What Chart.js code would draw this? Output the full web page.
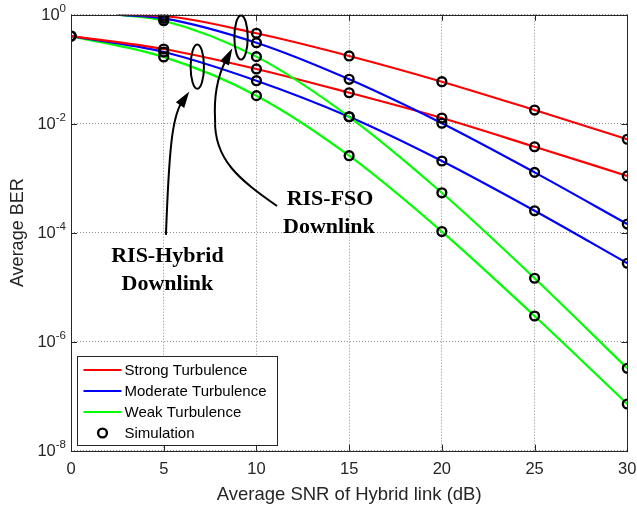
<!DOCTYPE html>
<html><head><meta charset="utf-8">
<script src="https://cdn.jsdelivr.net/npm/chart.js@4.4.0/dist/chart.umd.min.js"></script>
<style>html,body{margin:0;padding:0;background:#fff;}#wrap{width:637px;height:511px;}</style>
</head><body><div id="wrap"><canvas id="c" width="637" height="511"></canvas></div>
<script>
// ---------- data ----------
const snrHybrid = [0, 5, 10, 15, 20, 25, 30];
const snrFSO = [2.5, 5, 10, 15, 20, 25, 30];
const berStrongHybrid   = [0.406, 0.235, 0.101, 0.037, 0.0127, 0.00378, 0.0011];
const berModerateHybrid = [0.406, 0.207, 0.0615, 0.0134, 0.00207, 2.53e-4, 2.75e-5];
const berWeakHybrid     = [0.406, 0.168, 0.0327, 0.00259, 1.05e-4, 2.96e-6, 7.2e-8];
const berStrongFSO      = [1.0, 0.946, 0.456, 0.175, 0.059, 0.0178, 0.00518];
const berModerateFSO    = [1.0, 0.859, 0.306, 0.0653, 0.0102, 0.00128, 1.44e-4];
const berWeakFSO        = [1.0, 0.776, 0.170, 0.0134, 5.4e-4, 1.46e-5, 3.25e-7];
const simulationSNR = [0, 5, 10, 15, 20, 25, 30];
const seriesLabels = ['Strong Turbulence', 'Moderate Turbulence', 'Weak Turbulence', 'Simulation'];
const seriesColors = ['#ff0000', '#0000ff', '#00ff00'];
const xTickValues = [0, 5, 10, 15, 20, 25, 30];
const yTickExponents = [0, -2, -4, -6, -8];
const xTitle = 'Average SNR of Hybrid link (dB)';
const yTitle = 'Average BER';
const annotationTexts = [['RIS-Hybrid', 'Downlink'], ['RIS-FSO', 'Downlink']];

// ---------- build datasets ----------
const pts = (xs, ys) => xs.map((v, i) => ({x: v, y: ys[i]}));
const lineSets = [
  {label: seriesLabels[0], xs: snrFSO, ys: berStrongFSO, c: seriesColors[0]},
  {label: seriesLabels[1], xs: snrFSO, ys: berModerateFSO, c: seriesColors[1]},
  {label: seriesLabels[2], xs: snrFSO, ys: berWeakFSO, c: seriesColors[2]},
  {label: seriesLabels[0], xs: snrHybrid, ys: berStrongHybrid, c: seriesColors[0]},
  {label: seriesLabels[1], xs: snrHybrid, ys: berModerateHybrid, c: seriesColors[1]},
  {label: seriesLabels[2], xs: snrHybrid, ys: berWeakHybrid, c: seriesColors[2]},
];
const simPoints = [];
lineSets.forEach(s => s.xs.forEach((v, i) => { if (simulationSNR.includes(v)) simPoints.push({x: v, y: s.ys[i]}); }));

const datasets = [{
  type: 'scatter', label: seriesLabels[3], data: simPoints, order: 0,
  pointStyle: 'circle', pointRadius: 4.4, pointBorderWidth: 2.4, borderWidth: 2.4,
  pointBorderColor: '#000', pointBackgroundColor: 'rgba(0,0,0,0)', showLine: false
}].concat(lineSets.map(s => ({
  type: 'line', label: s.label, data: pts(s.xs, s.ys), order: 1,
  borderColor: s.c, borderWidth: 2.2, pointRadius: 0, fill: false,
  cubicInterpolationMode: 'monotone'
})));

Chart.defaults.font.family = '"Liberation Sans", Arial, Helvetica, sans-serif';
const AX = '#262626';
const GRID = 'rgba(0,0,0,0.45)';

// ---------- decorations: y tick labels with exponents, inward ticks, box, annotations, legend ----------
const decor = {
  id: 'decor',
  afterDraw(chart) {
    const {ctx, chartArea: a, scales: {x, y}} = chart;
    const P = (db, e) => [x.getPixelForValue(db), y.getPixelForValue(Math.pow(10, e))];
    ctx.save();
    ctx.setLineDash([]);
    // y tick labels: 10 with superscript exponent
    ctx.fillStyle = AX; ctx.textAlign = 'right'; ctx.textBaseline = 'middle';
    const baseFont = '16.5px "Liberation Sans", Arial, sans-serif';
    const expFont = '11.5px "Liberation Sans", Arial, sans-serif';
    yTickExponents.forEach(e => {
      const py = y.getPixelForValue(Math.pow(10, e));
      const rx = a.left - 5;
      const es = String(e);
      ctx.font = expFont; const ew = ctx.measureText(es).width;
      ctx.textBaseline = 'alphabetic';
      ctx.fillText(es, rx, py - 3.2);
      ctx.font = baseFont; ctx.textBaseline = 'middle';
      ctx.fillText('10', rx - ew, py + 1);
    });
    // inward ticks
    ctx.strokeStyle = AX; ctx.lineWidth = 1;
    const tl = 6;
    const seg = (x1, y1, x2, y2) => { ctx.beginPath(); ctx.moveTo(x1, y1); ctx.lineTo(x2, y2); ctx.stroke(); };
    xTickValues.forEach(v => { const px = Math.round(x.getPixelForValue(v)) + 0.5; seg(px, a.bottom, px, a.bottom - tl); seg(px, a.top, px, a.top + tl); });
    yTickExponents.forEach(e => { const py = Math.round(y.getPixelForValue(Math.pow(10, e))) + 0.5; seg(a.left, py, a.left + tl, py); seg(a.right, py, a.right - tl, py); });
    // box
    const L = Math.round(a.left) + 0.5, T = Math.round(a.top) + 0.5, R = Math.round(a.right) + 0.5, B = Math.round(a.bottom) + 0.5;
    ctx.strokeRect(L, T, R - L, B - T);

    // annotations (positions in data units: dB, log10 BER)
    ctx.strokeStyle = '#000'; ctx.fillStyle = '#000'; ctx.lineWidth = 2;
    const dbPx = x.getPixelForValue(1) - x.getPixelForValue(0);
    const decPx = y.getPixelForValue(0.1) - y.getPixelForValue(1);
    const ell = (db, e, rdb, rdec) => { const [cx, cy] = P(db, e); ctx.beginPath(); ctx.ellipse(cx, cy, rdb * dbPx, rdec * decPx, 0, 0, Math.PI * 2); ctx.stroke(); };
    ell(6.81, -0.954, 0.36, 0.405);
    ell(9.17, -0.418, 0.36, 0.405);
    const curve = (list) => {
      ctx.beginPath();
      const s = P(...list[0]); ctx.moveTo(s[0], s[1]);
      for (let i = 1; i < list.length; i += 3) {
        const c1 = P(...list[i]), c2 = P(...list[i + 1]), e = P(...list[i + 2]);
        ctx.bezierCurveTo(c1[0], c1[1], c2[0], c2[1], e[0], e[1]);
      }
      ctx.stroke();
    };
    const head = (base, tip) => {
      const b = P(...base), t = P(...tip);
      const dx = t[0] - b[0], dy = t[1] - b[1], len = Math.hypot(dx, dy);
      const nx = -dy / len * 5, ny = dx / len * 5;
      ctx.beginPath(); ctx.moveTo(t[0], t[1]); ctx.lineTo(b[0] + nx, b[1] + ny); ctx.lineTo(b[0] - nx, b[1] - ny); ctx.closePath(); ctx.fill();
    };
    // RIS-Hybrid arrow
    curve([[5.12, -4.04], [5.29, -2.48], [5.45, -1.90], [5.95, -1.62]]);
    head([5.88, -1.66], [6.38, -1.41]);
    // RIS-FSO arrow
    curve([[11.11, -3.51], [9.11, -3.03], [7.71, -2.67], [7.77, -1.93], [7.71, -1.57], [7.87, -1.16], [8.33, -0.85]]);
    head([8.28, -0.89], [8.70, -0.617]);
    ctx.font = 'bold 22px "Liberation Serif", "Times New Roman", serif';
    ctx.textAlign = 'center'; ctx.textBaseline = 'middle';
    const txt = (s, db, e) => { const [tx, ty] = P(db, e); ctx.fillText(s, tx, ty); };
    txt(annotationTexts[0][0], 5.20, -4.43);
    txt(annotationTexts[0][1], 5.20, -4.94);
    txt(annotationTexts[1][0], 13.97, -3.39);
    txt(annotationTexts[1][1], 13.91, -3.91);

    // legend
    const bx = Math.round(a.left) + 6.5, bw = 200, bh = 89, by = Math.round(a.bottom) - 5.5 - bh;
    ctx.fillStyle = '#fff'; ctx.fillRect(bx, by, bw, bh);
    ctx.strokeStyle = AX; ctx.lineWidth = 1; ctx.strokeRect(bx, by, bw, bh);
    ctx.font = '15px "Liberation Sans", Arial, sans-serif';
    ctx.textAlign = 'left'; ctx.textBaseline = 'middle';
    seriesLabels.forEach((lab, i) => {
      const ry = by + 13.5 + i * 21;
      if (i < 3) {
        ctx.strokeStyle = seriesColors[i]; ctx.lineWidth = 2.2;
        seg(bx + 6, ry, bx + 44, ry);
      } else {
        ctx.strokeStyle = '#000'; ctx.lineWidth = 2.4;
        ctx.beginPath(); ctx.arc(bx + 25, ry, 4.4, 0, Math.PI * 2); ctx.stroke();
      }
      ctx.fillStyle = '#000';
      ctx.fillText(lab, bx + 47, ry + 0.5);
    });
    ctx.restore();
  }
};

new Chart(document.getElementById('c'), {
  data: {datasets},
  options: {
    responsive: false, animation: false, events: [],
    layout: {padding: {top: 14.7, right: 9.7, left: 0, bottom: 0}},
    plugins: {legend: {display: false}, tooltip: {enabled: false}},
    scales: {
      x: {
        type: 'linear', min: 0, max: 30,
        afterBuildTicks: s => { s.ticks = xTickValues.map(v => ({value: v})); },
        ticks: {autoSkip: false, maxRotation: 0, color: AX, font: {size: 16.5}, padding: 9},
        grid: {color: GRID, lineWidth: 1, drawTicks: false},
        border: {display: false, dash: [1, 2]},
        title: {display: true, text: xTitle, color: AX, font: {size: 18.5}, padding: {top: 0, bottom: 5}},
        afterFit: s => { s.height = 60.3; s.paddingLeft = 0; s.paddingRight = 0; }
      },
      y: {
        type: 'logarithmic', min: 1e-8, max: 1,
        afterBuildTicks: s => { s.ticks = yTickExponents.map(e => ({value: Math.pow(10, e)})); },
        ticks: {display: false},
        grid: {color: GRID, lineWidth: 1, drawTicks: false},
        border: {display: false, dash: [1, 2]},
        title: {display: true, text: yTitle, color: AX, font: {size: 18}, padding: {top: 7, bottom: 0}},
        afterFit: s => { s.width = 71; s.paddingTop = 0; s.paddingBottom = 0; }
      }
    }
  },
  plugins: [decor]
});
</script>
</body></html>
